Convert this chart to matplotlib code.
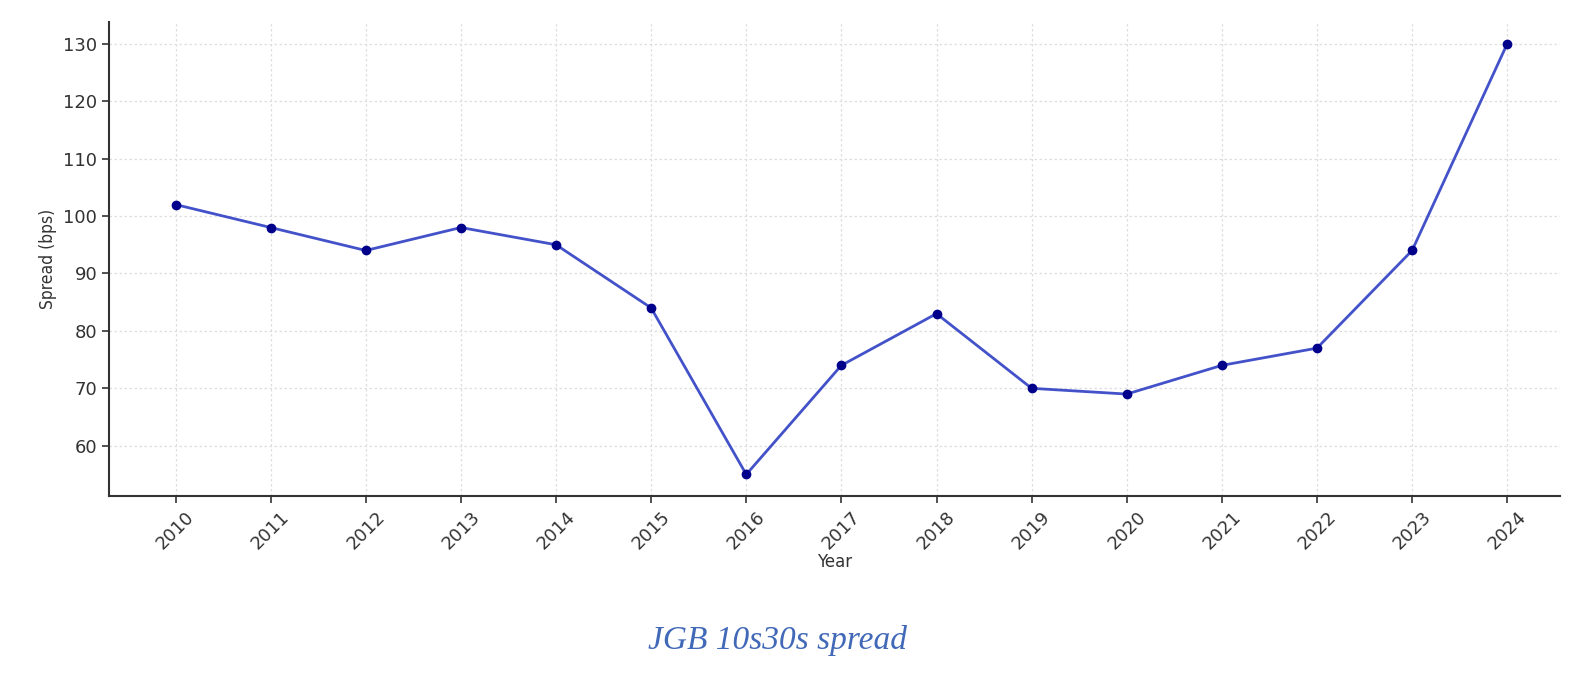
import matplotlib.pyplot as plt

years = [2010, 2011, 2012, 2013, 2014, 2015, 2016, 2017, 2018, 2019, 2020, 2021, 2022, 2023, 2024]
spread = [102, 98, 94, 98, 95, 84, 55, 74, 83, 70, 69, 74, 77, 94, 130]

fig = plt.figure(figsize=(15.93, 6.73), dpi=100)
ax = fig.add_axes([0.0684, 0.263, 0.9106, 0.704])

ax.plot(years, spread, color='#2f3fc4', linewidth=2, alpha=0.9, zorder=3)
ax.plot(years, spread, 'o', color='#00008b', markersize=6, zorder=4)

ax.set_xticks(years)
ax.set_xticklabels([str(y) for y in years], rotation=45)
ax.set_yticks([60, 70, 80, 90, 100, 110, 120, 130])
ax.set_xlim(2009.3, 2024.55)

ax.grid(True, linestyle=(0, (2, 2)), color='#dedede', linewidth=0.9)
for s in ['top', 'right']:
    ax.spines[s].set_visible(False)
for s in ['left', 'bottom']:
    ax.spines[s].set_linewidth(1.5)
    ax.spines[s].set_color('#333333')
ax.tick_params(labelsize=13, colors='#333333', length=5, width=1.2)

ax.set_xlabel('Year', fontsize=12, color='#333333', labelpad=0)
ax.set_ylabel('Spread (bps)', fontsize=12.5, color='#333333', fontstretch='condensed')

fig.text(0.488, 0.035, 'JGB 10s30s spread', family='Liberation Serif', style='italic',
         fontsize=24, color='#4169b8', ha='center')

plt.savefig('out.png', dpi=100)
